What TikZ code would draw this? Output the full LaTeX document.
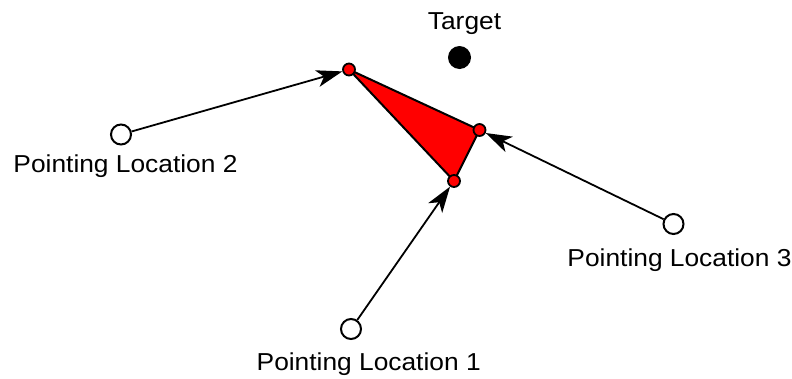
\documentclass[tikz,border=0pt]{standalone}
\usepackage{fontspec}
\setmainfont{Liberation Sans}[FakeStretch=1.075]
\usetikzlibrary{arrows.meta}
\begin{document}
\begin{tikzpicture}[x=1pt,y=-1pt,
  loc/.style={circle,draw,line width=2pt,fill=white,minimum size=20pt,inner sep=0pt},
  vert/.style={circle,draw,line width=1.8pt,fill=red,minimum size=12pt,inner sep=0pt},
  lbl/.style={anchor=base,font=\fontsize{24.5}{28}\selectfont,inner sep=0pt},
  ray/.style={line width=1.8pt,-{Stealth[length=26pt,width=17pt,inset=7pt]}}]
\useasboundingbox (0,0) rectangle (792,378);

% corners of the intersection triangle
\coordinate (p1) at (349,69.5);
\coordinate (p2) at (479.5,130);
\coordinate (p3) at (454,181);
\filldraw[fill=red,draw=black,line width=2pt,line join=round] (p1) -- (p2) -- (p3) -- cycle;
\node[vert] (v1) at (p1) {};
\node[vert] (v2) at (p2) {};
\node[vert] (v3) at (p3) {};

% target
\node[circle,fill=black,minimum size=23pt,inner sep=0pt] (target) at (459.5,57.5) {};
\node[lbl] (targetlbl) at (464.5,29) {Target};

% pointing locations
\node[loc] (l1) at (351,329) {};
\node[loc] (l2) at (121,134.5) {};
\node[loc] (l3) at (673.5,224) {};
\node[lbl] (l1lbl) at (368.7,370.7) {Pointing Location 1};
\node[lbl] (l2lbl) at (125.5,172) {Pointing Location 2};
\node[lbl] (l3lbl) at (679.5,266) {Pointing Location 3};

% pointing rays
\draw[ray] (l2) -- (v1);
\draw[ray] (l1) -- (v3);
\draw[ray] (l3) -- (v2);
\end{tikzpicture}
\end{document}
